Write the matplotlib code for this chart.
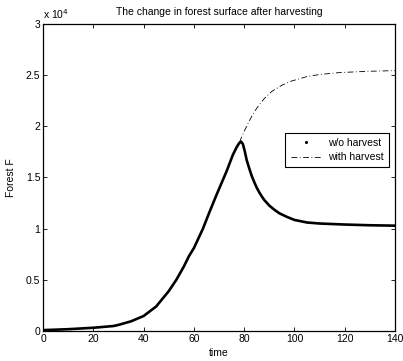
import matplotlib
matplotlib.use("Agg")
import matplotlib.pyplot as plt
from matplotlib.lines import Line2D

plt.rcParams['font.family'] = ['Liberation Sans', 'DejaVu Sans']

# Data
time_without = [0, 10, 20, 28, 30, 35, 40, 45, 50, 53, 56, 58, 60, 63.6, 66, 69, 73,
                75.5, 77, 78, 78.8, 79.5, 80.2, 81, 82, 83, 84, 85, 86, 87, 88, 90, 92,
                94, 97, 100, 105, 110, 120, 130, 140]
forest_without = [90, 180, 320, 490, 600, 950, 1470, 2400, 3900, 5000, 6300, 7300, 8100,
                  10000, 11500, 13300, 15600, 17200, 17950, 18350, 18500, 18250, 17600,
                  16700, 15900, 15150, 14550, 14000, 13550, 13150, 12800, 12250, 11850,
                  11500, 11150, 10850, 10600, 10500, 10400, 10330, 10290]

time_with = [0, 10, 20, 28, 30, 35, 40, 45, 50, 53, 56, 58, 60, 63.6, 66, 69, 73, 75.5,
             77, 78, 79, 80, 82, 84, 86, 88, 91, 95, 98, 105, 110, 118, 130, 140]
forest_with = [90, 180, 320, 490, 600, 950, 1470, 2400, 3900, 5000, 6300, 7300, 8100,
               10000, 11500, 13300, 15600, 17200, 17950, 18350, 18950, 19500, 20500,
               21400, 22100, 22700, 23400, 24000, 24350, 24850, 25050, 25240, 25370,
               25430]

xticks = [0, 20, 40, 60, 80, 100, 120, 140]
yticks = [0, 5000, 10000, 15000, 20000, 25000, 30000]
ytick_labels = ['0', '0.5', '1', '1.5', '2', '2.5', '3']

fig = plt.figure(figsize=(4.03, 3.61), dpi=100)
ax = fig.add_axes([0.107, 0.083, 0.873, 0.851])

ax.plot(time_with, forest_with, color='k', lw=0.6, linestyle=(0, (7, 3, 1, 3)))
ax.plot(time_without, forest_without, color='k', lw=1.9, solid_capstyle='round',
        solid_joinstyle='round')

ax.set_xlim(0, 140)
ax.set_ylim(0, 30000)
ax.set_xticks(xticks)
ax.set_yticks(yticks)
ax.set_yticklabels(ytick_labels)
ax.tick_params(direction='in', length=3, width=0.6, top=True, right=True,
               labelsize=7.5, pad=2)
for s in ax.spines.values():
    s.set_linewidth(0.9)

ax.set_title('The change in forest surface after harvesting', fontsize=7.5, pad=6)
ax.set_xlabel('time', fontsize=7.5, labelpad=3)
ax.set_ylabel('Forest F', fontsize=7.5, labelpad=7)
ax.text(0.0, 1.01, 'x 10$^4$', transform=ax.transAxes, fontsize=7.5,
        ha='left', va='bottom')

handles = [Line2D([], [], color='k', marker='.', ls='none', ms=2.5),
           Line2D([], [], color='k', lw=0.6, linestyle=(0, (7, 3, 1, 3)))]
labels = ['w/o harvest', 'with harvest']
leg = ax.legend(handles, labels,
                loc='upper right', bbox_to_anchor=(0.983, 0.645), fontsize=7.5,
                frameon=True, fancybox=False, edgecolor='k', framealpha=1,
                borderpad=0.5, handlelength=3.0, labelspacing=0.4, handletextpad=0.6,
                borderaxespad=0)
leg.get_frame().set_linewidth(0.8)

fig.savefig('out.png', dpi=100)
